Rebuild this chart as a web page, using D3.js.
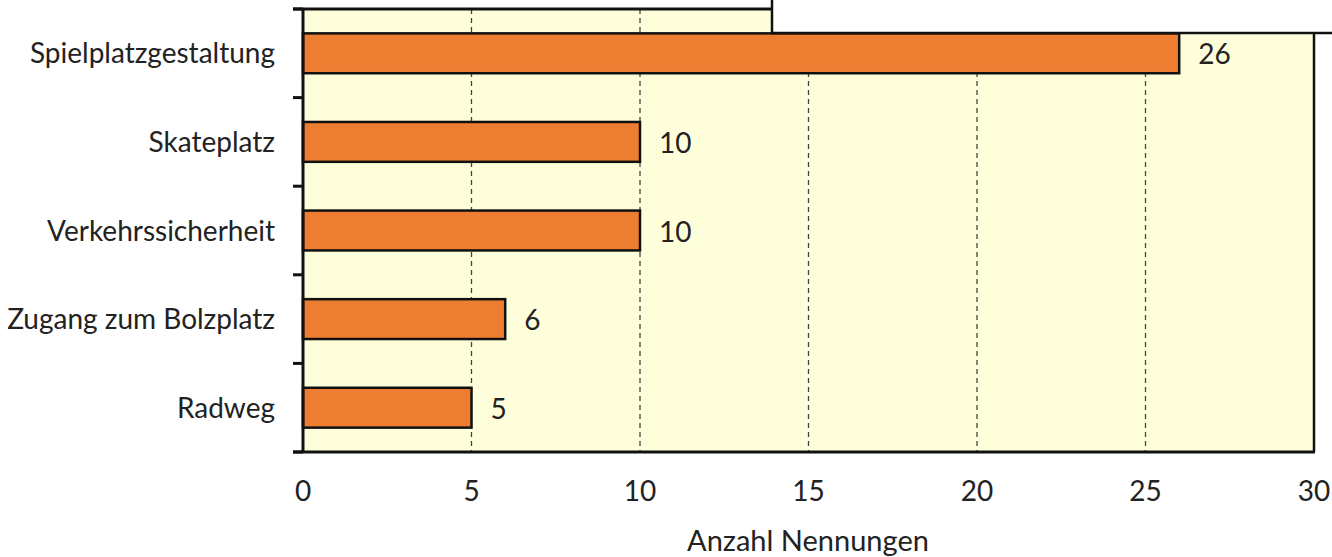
<!DOCTYPE html>
<html><head><meta charset="utf-8">
<script src="https://cdn.jsdelivr.net/npm/d3@7"></script>
<style>body{margin:0;background:#fff}svg{display:block}text{font-family:Lato,"Open Sans",sans-serif;fill:#222}</style>
</head><body>
<svg id="c" width="1332" height="557"></svg>
<script>
const categories = ["Spielplatzgestaltung","Skateplatz","Verkehrssicherheit","Zugang zum Bolzplatz","Radweg"];
const values = [26,10,10,6,5];
const xTicks = [0,5,10,15,20,25,30];
const xTitle = "Anzahl Nennungen";

const svg = d3.select("#c");
const L = 303, R = 1314, T = 9, B = 452;
const x = d3.scaleLinear().domain([0,30]).range([L,R]);
const y = d3.scaleBand().domain(categories).range([T,B]).paddingInner(0.55).paddingOuter(0.275);
const yb = d3.scaleBand().domain(categories).range([T,B]);

svg.append("rect").attr("x",L).attr("y",T).attr("width",R-L).attr("height",B-T).attr("fill","#FEFEDB");

svg.append("g").selectAll("line").data(xTicks.filter(d=>d>0&&d<30)).join("line")
  .attr("x1",d=>x(d)).attr("x2",d=>x(d)).attr("y1",T).attr("y2",B)
  .attr("stroke","#444").attr("stroke-width",1.3).attr("stroke-dasharray","5,4");

svg.append("g").selectAll("rect").data(values).join("rect")
  .attr("x",x(0)).attr("y",(d,i)=>y(categories[i]))
  .attr("width",d=>x(d)-x(0)).attr("height",y.bandwidth())
  .attr("fill","#ED7D31").attr("stroke","#111").attr("stroke-width",2.5);

svg.append("g").selectAll("text").data(values).join("text")
  .attr("x",d=>x(d)+19).attr("y",(d,i)=>y(categories[i])+y.bandwidth()/2+11)
  .attr("font-size",28).text(d=>d);

// plot border
svg.append("line").attr("x1",R).attr("x2",R).attr("y1",T).attr("y2",B).attr("stroke","#111").attr("stroke-width",2.5);
svg.append("line").attr("x1",L-10).attr("x2",R+1).attr("y1",B).attr("y2",B).attr("stroke","#111").attr("stroke-width",3);
svg.append("line").attr("x1",L-10).attr("x2",R+1).attr("y1",T).attr("y2",T).attr("stroke","#111").attr("stroke-width",3);
svg.append("line").attr("x1",L).attr("x2",L).attr("y1",T).attr("y2",B).attr("stroke","#111").attr("stroke-width",3);

// y ticks
const yTickPos = categories.map(c=>yb(c)).concat([B]);
svg.append("g").selectAll("line").data(yTickPos).join("line")
  .attr("x1",L-10).attr("x2",L).attr("y1",d=>d).attr("y2",d=>d).attr("stroke","#111").attr("stroke-width",3);

svg.append("g").selectAll("text").data(categories).join("text")
  .attr("x",275).attr("y",c=>yb(c)+yb.bandwidth()/2+10).attr("text-anchor","end")
  .attr("font-size",28).text(c=>c);

svg.append("g").selectAll("text").data(xTicks).join("text")
  .attr("x",d=>x(d)).attr("y",501).attr("text-anchor","middle").attr("font-size",28).text(d=>d);

svg.append("text").attr("x",808).attr("y",551).attr("text-anchor","middle").attr("font-size",29).text(xTitle);

// overlapping white box at top right
svg.append("rect").attr("x",772).attr("y",-10).attr("width",600).attr("height",43).attr("fill","#fff").attr("stroke","#111").attr("stroke-width",2.5);
</script>
</body></html>
